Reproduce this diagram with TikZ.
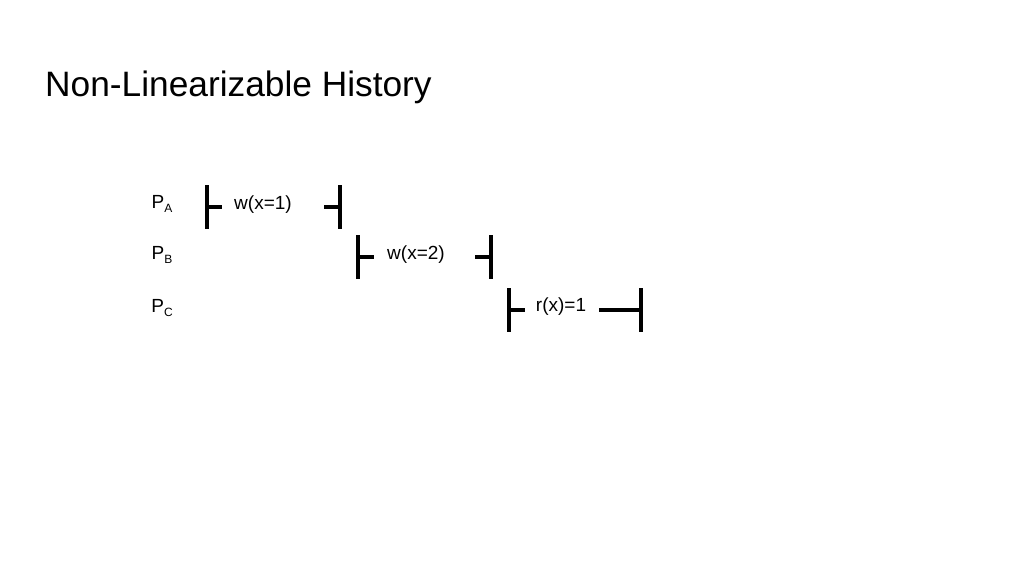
\documentclass[tikz,border=0pt]{standalone}
\usepackage{fontspec}
\setmainfont{Liberation Sans}
\newcommand{\proc}[1]{P\raisebox{-0.45ex}{\fontsize{12}{14}\selectfont #1}}
\tikzset{
  bar/.style={line width=4.2pt},
  op/.style={font=\fontsize{19}{22}\selectfont, inner sep=0pt},
  lbl/.style={font=\fontsize{19}{22}\selectfont, inner sep=0pt}
}
\begin{document}
\begin{tikzpicture}[x=1pt,y=-1pt]
            \useasboundingbox (0,0) rectangle (1024,576);
            \node[anchor=base west, inner sep=0pt, font=\fontsize{35.3}{42}\selectfont] (title) at (45,96) {Non-Linearizable History};

            % processes
            \node[lbl] (pA) at (162,204) {\proc{A}};
            \node[lbl] (pB) at (162,255) {\proc{B}};
            \node[lbl] (pC) at (162,308) {\proc{C}};

            % invocation / response points
            \coordinate (aS) at (207,207);
            \coordinate (aE) at (340,207);
            \coordinate (bS) at (358,257);
            \coordinate (bE) at (491,257);
            \coordinate (cS) at (509,310);
            \coordinate (cE) at (641,310);

            \node[op] (wA) at (263,205) {w(x=1)};
            \node[op] (wB) at (416,255) {w(x=2)};
            \node[op] (rC) at (561,307) {r(x)=1};

            \draw[bar] (aS) ++(0,-22) -- ++(0,44);
            \draw[bar] (aS) -- ++(15,0);
            \draw[bar] (aE) ++(0,-22) -- ++(0,44);
            \draw[bar] (aE) -- ++(-16,0);

            \draw[bar] (bS) ++(0,-22) -- ++(0,44);
            \draw[bar] (bS) -- ++(16,0);
            \draw[bar] (bE) ++(0,-22) -- ++(0,44);
            \draw[bar] (bE) -- ++(-16,0);

            \draw[bar] (cS) ++(0,-22) -- ++(0,44);
            \draw[bar] (cS) -- ++(16,0);
            \draw[bar] (cE) ++(0,-22) -- ++(0,44);
            \draw[bar] (cE) -- ++(-42,0);
        \end{tikzpicture}
\end{document}
